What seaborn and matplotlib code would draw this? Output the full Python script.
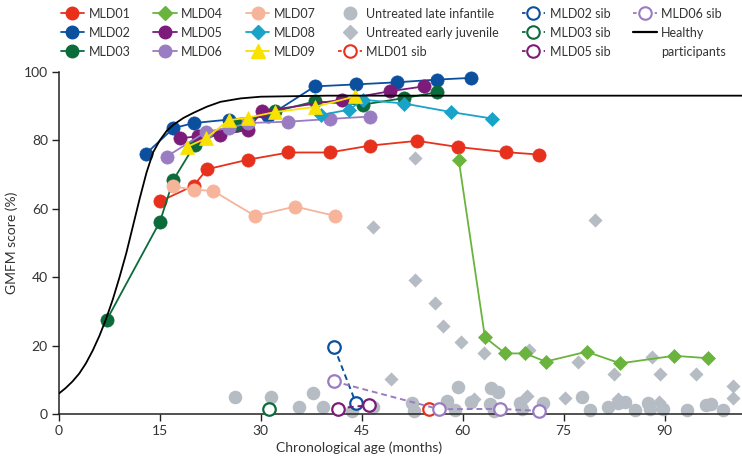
import numpy as np
import pandas as pd
import seaborn as sns
import matplotlib.pyplot as plt
from matplotlib.lines import Line2D

# --- treated patients (age in months, GMFM %) ---
mld01_x = [15.0, 20.0, 22.0, 28.1, 34.1, 40.2, 46.2, 53.2, 59.3, 66.4, 71.3]
mld01_y = [62.1, 66.7, 71.5, 74.3, 76.4, 76.4, 78.4, 79.8, 78.0, 76.5, 75.8]
mld02_x = [12.9, 17.0, 20.0, 25.2, 31.1, 38.0, 44.2, 50.2, 56.2, 61.3]
mld02_y = [76.0, 83.5, 85.0, 86.0, 87.0, 95.7, 96.3, 96.9, 97.7, 98.2]
mld03_x = [7.1, 15.0, 17.0, 20.2, 26.4, 32.1, 38.0, 45.2, 51.3, 56.2]
mld03_y = [27.5, 56.2, 68.4, 78.7, 84.5, 88.4, 91.3, 90.4, 92.3, 94.0]
mld04_x = [59.4, 63.3, 66.3, 69.3, 72.3, 78.4, 83.4, 91.4, 96.5]
mld04_y = [74.3, 22.4, 17.7, 17.7, 15.3, 18.2, 14.8, 17.0, 16.3]
mld05_x = [18.0, 20.7, 23.9, 28.1, 30.1, 42.0, 49.2, 54.2]
mld05_y = [80.6, 81.1, 81.6, 83.0, 88.4, 91.8, 94.3, 95.7]
mld06_x = [16.0, 21.9, 25.2, 28.1, 34.1, 40.3, 46.2]
mld06_y = [75.2, 82.5, 83.5, 85.0, 85.4, 86.2, 86.9]
mld07_x = [17.0, 20.0, 22.9, 29.1, 35.1, 41.0]
mld07_y = [66.5, 65.5, 65.2, 57.9, 60.6, 57.9]
mld08_x = [39.0, 43.1, 45.2, 51.3, 58.3, 64.4]
mld08_y = [87.4, 88.9, 91.8, 90.7, 88.2, 86.3]
mld09_x = [19.0, 21.9, 25.2, 28.1, 32.1, 38.0, 44.0]
mld09_y = [78.0, 80.6, 85.8, 86.6, 88.2, 89.7, 92.8]

# --- untreated siblings ---
sib01_x = [55.0]
sib01_y = [1.4]
sib02_x = [40.9, 44.1]
sib02_y = [19.5, 3.3]
sib03_x = [31.2]
sib03_y = [1.4]
sib05_x = [41.5, 46.0]
sib05_y = [1.6, 2.6]
sib06_x = [40.9, 56.5, 65.5, 71.4]
sib06_y = [9.5, 1.4, 1.5, 0.9]

# --- natural history ---
late_inf_x = [26.2, 31.5, 35.6, 37.8, 39.3, 43.5, 46.7, 52.4, 52.7, 57.7, 58.9,
              59.3, 61.3, 64.2, 65.3, 64.0, 64.6, 68.5, 68.8, 72.0, 77.7, 78.9,
              81.6, 83.1, 84.1, 85.6, 87.6, 87.8, 89.8, 93.3, 96.1, 96.9, 98.7]
late_inf_y = [5.1, 5.1, 2.1, 6.0, 2.1, 1.0, 2.1, 3.3, 0.8, 3.9, 1.2,
              8.0, 3.6, 7.5, 6.3, 2.8, 0.8, 3.3, 1.4, 3.3, 5.1, 1.3,
              2.1, 3.2, 3.4, 1.3, 3.1, 1.4, 1.5, 1.3, 2.7, 3.0, 1.3]
early_juv_x = [46.7, 49.3, 52.9, 52.9, 55.9, 57.1, 59.8, 61.7, 63.2, 69.8, 69.6,
               75.2, 77.1, 79.6, 82.5, 83.1, 88.1, 89.3, 89.2, 94.7, 100.2, 100.2]
early_juv_y = [54.5, 10.1, 74.8, 39.2, 32.4, 25.6, 21.0, 4.4, 17.7, 18.7, 5.2,
               4.8, 15.3, 56.7, 11.6, 4.4, 16.7, 11.8, 3.6, 11.8, 8.1, 4.7]

# --- healthy participants curve ---
healthy_x = [0, 1, 2, 3, 4, 5, 6, 7, 8, 9, 10, 11, 12, 13, 14, 15, 16, 17,
             18.5, 20, 22, 24, 27, 30, 40, 101.5]
healthy_y = [6.0, 7.6, 9.5, 11.8, 14.8, 18.5, 22.8, 27.8, 33.5, 40.0, 47.0, 55.0,
             63.0, 70.5, 76.5, 80.0, 82.7, 84.5, 86.5, 88.0, 89.8, 91.2, 92.2,
             92.7, 93.0, 93.0]

RED = "#e8311d"
BLUE = "#0b4f9f"
DGREEN = "#0b6b3b"
LGREEN = "#6ab43e"
MAGENTA = "#7c1b79"
LAVENDER = "#9a7cc2"
SALMON = "#f6b49b"
CYAN = "#19a3c9"
YELLOW = "#f9e100"
GRAY = "#b5bcc3"
TEXT = "#333333"

treated = [
    ("MLD01", mld01_x, mld01_y, RED, "o", 9.5),
    ("MLD02", mld02_x, mld02_y, BLUE, "o", 9.5),
    ("MLD03", mld03_x, mld03_y, DGREEN, "o", 9.5),
    ("MLD04", mld04_x, mld04_y, LGREEN, "D", 7.5),
    ("MLD05", mld05_x, mld05_y, MAGENTA, "o", 9.5),
    ("MLD06", mld06_x, mld06_y, LAVENDER, "o", 9.5),
    ("MLD07", mld07_x, mld07_y, SALMON, "o", 9.5),
    ("MLD08", mld08_x, mld08_y, CYAN, "D", 7.5),
    ("MLD09", mld09_x, mld09_y, YELLOW, "^", 10),
]
sibs = [
    ("MLD01 sib", sib01_x, sib01_y, RED),
    ("MLD02 sib", sib02_x, sib02_y, BLUE),
    ("MLD03 sib", sib03_x, sib03_y, DGREEN),
    ("MLD05 sib", sib05_x, sib05_y, MAGENTA),
    ("MLD06 sib", sib06_x, sib06_y, LAVENDER),
]

sns.set_theme(style="ticks")
plt.rcParams['font.family'] = ['Lato', 'DejaVu Sans']

fig = plt.figure(figsize=(7.42, 4.63), dpi=100)
ax = fig.add_axes([59 / 742, 1 - 414 / 463, 683 / 742, (414 - 71.7) / 463])

# natural history clouds
sns.scatterplot(x=late_inf_x, y=late_inf_y, ax=ax, color=GRAY, marker="o", s=95,
                linewidth=0, clip_on=False, zorder=1)
sns.scatterplot(x=early_juv_x, y=early_juv_y, ax=ax, color=GRAY, marker="D", s=52,
                linewidth=0, clip_on=False, zorder=1)

# siblings
for name, x, y, c in sibs:
    sns.lineplot(x=x, y=y, ax=ax, color=c, lw=1.4, linestyle=(0, (3, 2)),
                 marker="o", markersize=9, markerfacecolor="white",
                 markeredgecolor=c, markeredgewidth=1.6, sort=False,
                 clip_on=False, zorder=3)

# treated patients
for name, x, y, c, m, ms in treated:
    sns.lineplot(x=x, y=y, ax=ax, color=c, lw=1.3, marker=m, markersize=ms,
                 markeredgecolor=c, markeredgewidth=0.5, sort=False,
                 clip_on=False, zorder=4)

sns.lineplot(x=healthy_x, y=healthy_y, ax=ax, color="black", lw=1.3, sort=False,
             zorder=6)

ax.set_xlim(0, 101.5)
ax.set_ylim(0, 100)
ax.set_xticks(np.arange(0, 91, 15))
ax.set_yticks(np.arange(0, 101, 20))
ax.tick_params(axis="both", labelsize=10, length=5, width=1, color="#222222",
               labelcolor=TEXT, pad=3)
for side in ["top", "right"]:
    ax.spines[side].set_visible(False)
for side in ["left", "bottom"]:
    ax.spines[side].set_color("#222222")
    ax.spines[side].set_linewidth(1.1)
ax.set_xlabel("Chronological age (months)", fontsize=10, color=TEXT)
ax.set_ylabel("GMFM score (%)", fontsize=10, color=TEXT)
ax.xaxis.set_label_coords(0.44, -0.08)

# legend: 6 columns x 3 rows, "Healthy participants" split over two rows
handles, labels = [], []
order = ["MLD01", "MLD02", "MLD03", "MLD04", "MLD05", "MLD06", "MLD07", "MLD08",
         "MLD09", "late", "early", "MLD01 sib", "MLD02 sib", "MLD03 sib",
         "MLD05 sib", "MLD06 sib", "healthy", "healthy2"]
tmap = {t[0]: t for t in treated}
smap = {s[0]: s for s in sibs}
for key in order:
    if key in tmap:
        name, _, _, c, m, ms = tmap[key]
        handles.append(Line2D([], [], color=c, lw=1.3, marker=m, markersize=ms * 0.95,
                              markeredgecolor=c))
        labels.append(name)
    elif key in smap:
        name, _, _, c = smap[key]
        handles.append(Line2D([], [], color=c, lw=1.3, linestyle=(0, (2, 2)),
                              marker="o", markersize=9, markerfacecolor="white",
                              markeredgecolor=c, markeredgewidth=1.5))
        labels.append(name)
    elif key == "late":
        handles.append(Line2D([], [], color=GRAY, lw=0, marker="o", markersize=9))
        labels.append("Untreated late infantile")
    elif key == "early":
        handles.append(Line2D([], [], color=GRAY, lw=0, marker="D", markersize=7))
        labels.append("Untreated early juvenile")
    elif key == "healthy":
        handles.append(Line2D([], [], color="black", lw=1.6))
        labels.append("Healthy")
    else:
        handles.append(Line2D([], [], color="none", lw=0))
        labels.append("participants")

fig.legend(handles, labels, loc="upper left", bbox_to_anchor=(58 / 742, 1 - 5 / 463),
           ncol=6, frameon=False, fontsize=9, handlelength=1.9,
           handletextpad=0.35, columnspacing=1.8, labelspacing=0.57,
           borderpad=0.2, borderaxespad=0, labelcolor=TEXT)

fig.savefig("out.png", dpi=100)
